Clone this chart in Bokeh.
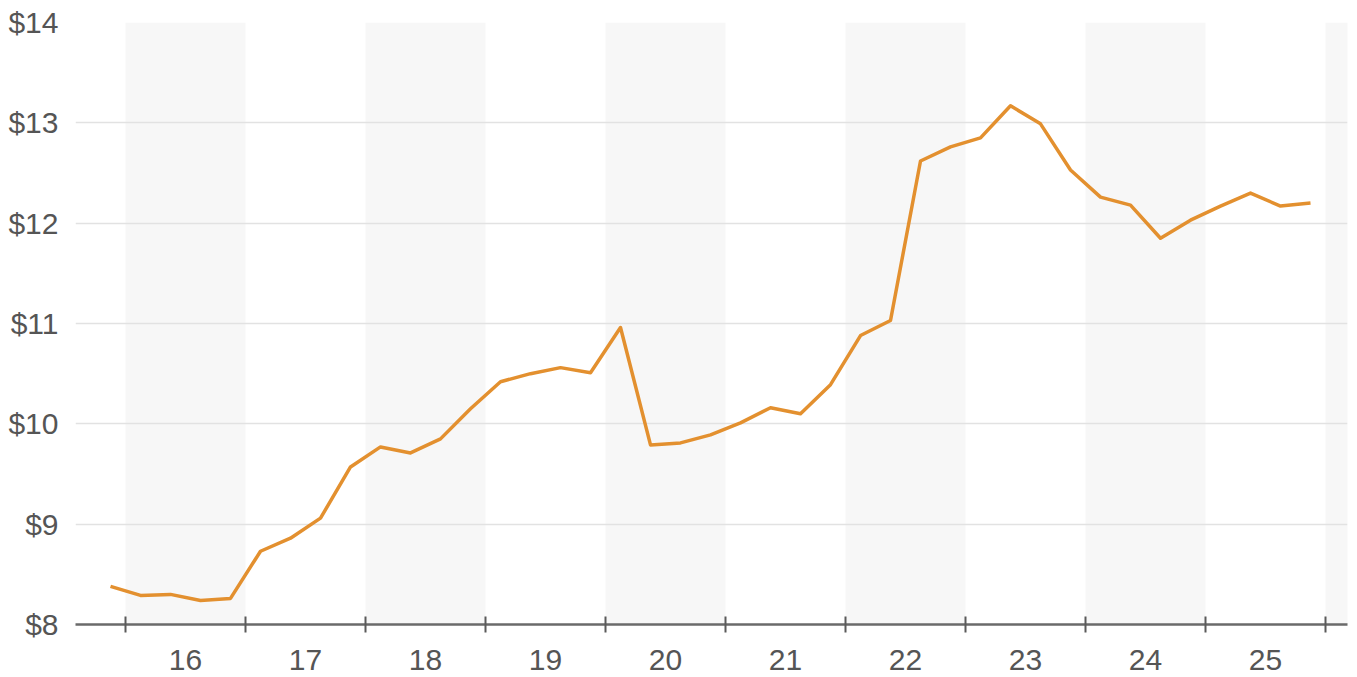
from bokeh.plotting import figure
from bokeh.models import FixedTicker, Range1d, NumeralTickFormatter
from bokeh.embed import file_html
from bokeh.resources import INLINE

# ---- data ----
periods = ["2015-11", "2016-02", "2016-05", "2016-08", "2016-11",
           "2017-02", "2017-05", "2017-08", "2017-11",
           "2018-02", "2018-05", "2018-08", "2018-11",
           "2019-02", "2019-05", "2019-08", "2019-11",
           "2020-02", "2020-05", "2020-08", "2020-11",
           "2021-02", "2021-05", "2021-08", "2021-11",
           "2022-02", "2022-05", "2022-08", "2022-11",
           "2023-02", "2023-05", "2023-08", "2023-11",
           "2024-02", "2024-05", "2024-08", "2024-11",
           "2025-02", "2025-05", "2025-08", "2025-11"]
prices = [8.38, 8.29, 8.30, 8.24, 8.26,
          8.73, 8.86, 9.06, 9.57,
          9.77, 9.71, 9.85, 10.15,
          10.42, 10.50, 10.56, 10.51,
          10.96, 9.79, 9.81, 9.89,
          10.01, 10.16, 10.10, 10.39,
          10.88, 11.03, 12.62, 12.76,
          12.85, 13.17, 12.99, 12.53,
          12.26, 12.18, 11.85, 12.03,
          12.17, 12.30, 12.17, 12.20]
years = [2016, 2017, 2018, 2019, 2020, 2021, 2022, 2023, 2024, 2025]
year_labels = ["16", "17", "18", "19", "20", "21", "22", "23", "24", "25"]
shaded_years = [2016, 2018, 2020, 2022, 2024, 2026]
y_ticks = [8, 9, 10, 11, 12, 13, 14]

# ---- derived positions (fractional years, mid-month) ----
xs = [int(s[:4]) + (int(s[5:]) - 0.5) / 12 for s in periods]

FONT = "Liberation Sans"
TEXT = "#555555"

p = figure(width=1352, height=675, output_backend="svg", toolbar_location=None,
           x_range=Range1d(2015.5833, 2026.1833), y_range=Range1d(8, 14))
p.min_border_left = 75
p.min_border_right = 5
p.min_border_top = 22
p.min_border_bottom = 51
p.outline_line_color = None
p.background_fill_color = "white"

# alternating year bands
p.quad(left=shaded_years, right=[y + 1 for y in shaded_years],
       bottom=8, top=14, fill_color="#f7f7f7", line_color=None, level="underlay")

p.line(xs, prices, line_color="#E3902F", line_width=3.5, line_join="round")

# grid
p.xgrid.visible = False
p.ygrid.ticker = FixedTicker(ticks=y_ticks)
p.ygrid.grid_line_color = "#e2e2e2"
p.ygrid.grid_line_width = 1.5

# y axis
ya = p.yaxis[0]
ya.ticker = FixedTicker(ticks=y_ticks)
ya.formatter = NumeralTickFormatter(format="$0")
ya.axis_line_color = None
ya.major_tick_line_color = None
ya.minor_tick_line_color = None
ya.major_label_text_font = FONT
ya.major_label_text_font_size = "30px"
ya.major_label_text_color = TEXT
ya.major_label_standoff = 11

# x axis: labels at year centres, tick marks at year boundaries
xa = p.xaxis[0]
centers = [y + 0.5 for y in years]
xa.ticker = FixedTicker(ticks=centers, minor_ticks=years + [2026])
xa.major_label_overrides = {c: lab for c, lab in zip(centers, year_labels)}
xa.major_tick_line_color = None
xa.major_tick_in = 0
xa.major_tick_out = 0
xa.minor_tick_line_color = "#5a5a5a"
xa.minor_tick_line_width = 2
xa.minor_tick_in = 8
xa.minor_tick_out = 8
xa.axis_line_color = "#6a6a6a"
xa.axis_line_width = 2.5
xa.major_label_text_font = FONT
xa.major_label_text_font_size = "30px"
xa.major_label_text_color = TEXT
xa.major_label_standoff = 17

open("out.html", "w").write(file_html(p, INLINE))
